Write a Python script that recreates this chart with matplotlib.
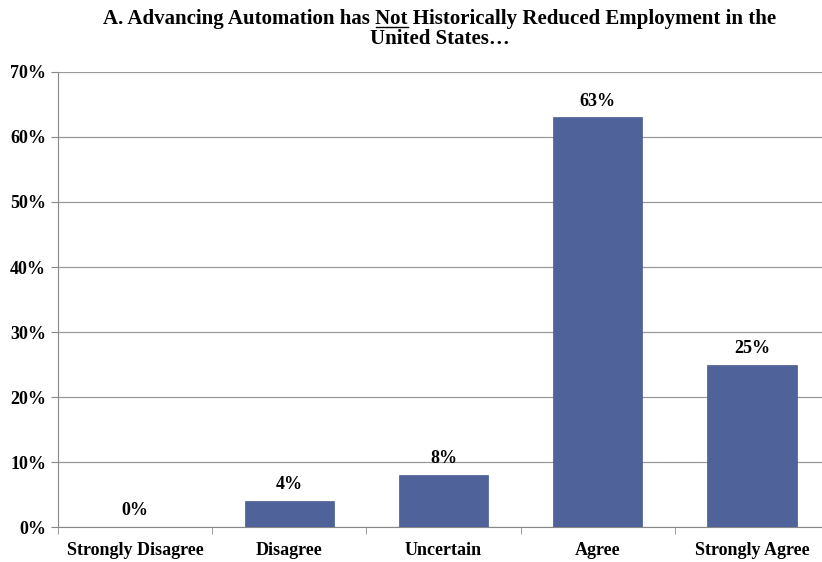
import matplotlib

matplotlib.use("Agg")

import matplotlib.pyplot as plt
from matplotlib.ticker import FuncFormatter, MultipleLocator

categories = ["Strongly Disagree", "Disagree", "Uncertain", "Agree", "Strongly Agree"]
values = [0, 4, 8, 63, 25]
title_pre = "A. Advancing Automation has "
title_under = "Not"
title_post = " Historically Reduced Employment in the"
title_line2 = "United States\u2026"

plt.rcParams["font.family"] = ["Liberation Serif", "DejaVu Serif"]
plt.rcParams["font.weight"] = "bold"

W, H = 822, 562
fig = plt.figure(figsize=(W / 100, H / 100), dpi=100)
ax = fig.add_axes([0.0706, 0.062, 0.938, 0.810])

x = range(len(categories))
ax.bar(x, values, width=0.58, color="#50629a", edgecolor="#4a5b8f", linewidth=0.5,
       zorder=3)
for xi, v in zip(x, values):
    ax.text(xi, v + 1.2, f"{v}%", ha="center", va="bottom", fontsize=13,
            fontweight="bold")

ax.set_xlim(-0.5, len(categories) - 0.5)
ax.set_ylim(0, 70)
ax.yaxis.set_major_locator(MultipleLocator(10))
ax.yaxis.set_major_formatter(FuncFormatter(lambda v, _: f"{v:.0f}%"))
ax.grid(axis="y", color="#999999", linewidth=0.9, zorder=0)
ax.set_xticks(x)
ax.set_xticklabels(categories, fontsize=13, fontweight="bold")
ax.set_xticks([i + 0.5 for i in range(-1, len(categories))], minor=True)
ax.tick_params(axis="x", which="major", length=0, pad=11)
ax.tick_params(axis="x", which="minor", length=5, color="#888888")
ax.tick_params(axis="y", length=5, color="#888888", labelsize=13)
for lbl in ax.get_yticklabels():
    lbl.set_fontweight("bold")
for side in ["top", "right"]:
    ax.spines[side].set_visible(False)
for side in ["left", "bottom"]:
    ax.spines[side].set_color("#888888")

# title with underlined word
fs = 15
renderer = fig.canvas.get_renderer()
full = title_pre + title_under + title_post
xc = 440 / W
t = fig.text(xc, 1 - 24 / H, full, ha="center", va="baseline", fontsize=fs,
             fontweight="bold")
fig.text(xc, 1 - 44 / H, title_line2, ha="center", va="baseline", fontsize=fs,
         fontweight="bold")
bb = t.get_window_extent(renderer)
tmp = fig.text(0, 0, title_pre, fontsize=fs, fontweight="bold")
w_pre = tmp.get_window_extent(renderer).width
tmp.set_text(title_pre + title_under)
w_und = tmp.get_window_extent(renderer).width
tmp.remove()
x0 = (bb.x0 + w_pre) / W
x1 = (bb.x0 + w_und) / W
yl = 1 - 26.5 / H
fig.add_artist(plt.Line2D([x0, x1], [yl, yl], color="black", linewidth=1.0))

fig.savefig("out.png", dpi=100)
